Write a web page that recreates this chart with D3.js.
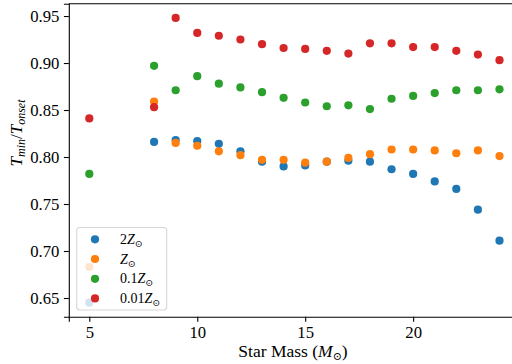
<!DOCTYPE html>
<html><head><meta charset="utf-8">
<script src="https://cdn.jsdelivr.net/npm/d3@7"></script>
<style>body{margin:0;background:#fff}svg{display:block}</style>
</head><body>
<svg id="c" width="512" height="364"></svg>
<script>
const masses = [5,8,9,10,11,12,13,14,15,16,17,18,19,20,21,22,23,24];
const z2   = [0.645,0.816,0.818,0.817,0.814,0.806,0.795,0.790,0.791,0.795,0.796,0.795,0.787,0.782,0.774,0.766,0.744,0.711];
const z1   = [0.683,0.859,0.815,0.812,0.806,0.802,0.797,0.797,0.794,0.795,0.799,0.803,0.808,0.808,0.807,0.804,0.807,0.801];
const z01  = [0.782,0.897,0.871,0.886,0.878,0.874,0.869,0.863,0.858,0.854,0.855,0.851,0.862,0.865,0.868,0.871,0.871,0.872];
const z001 = [0.841,0.853,0.948,0.932,0.929,0.925,0.920,0.916,0.915,0.913,0.910,0.921,0.921,0.917,0.917,0.913,0.909,0.903];
const seriesNames = ["2", "", "0.1", "0.01"];
const seriesValues = [z2, z1, z01, z001];
const colors = ["#1f77b4","#ff7f0e","#2ca02c","#d62728"];
const xTicks = [5,10,15,20];
const yTicks = [0.65,0.70,0.75,0.80,0.85,0.90,0.95];

const svg = d3.select("#c");
const FONT = "'Liberation Serif', 'DejaVu Serif', serif";
const x = d3.scaleLinear().domain([4.05, 24.95]).range([68.8, 520]);
const y = d3.scaleLinear().domain([0.63, 0.963]).range([316.8, 3.8]);

// points
seriesValues.forEach((vals, si) => {
  svg.append("g").selectAll("circle").data(masses.map((m,i)=>[m, vals[i]]))
    .enter().append("circle")
    .attr("cx", d => x(d[0])).attr("cy", d => y(d[1])).attr("r", 4.1)
    .attr("fill", colors[si]);
});

// axes
const xAxis = svg.append("g").attr("transform", `translate(0,${y.range()[0]})`)
  .call(d3.axisBottom(x).tickValues(xTicks).tickFormat(d3.format("d")).tickSizeOuter(0).tickSize(4.9).tickPadding(4.5));
const yAxis = svg.append("g").attr("transform", `translate(${x.range()[0]},0)`)
  .call(d3.axisLeft(y).tickValues(yTicks).tickFormat(d3.format(".2f")).tickSizeOuter(0).tickSize(4.9).tickPadding(4.5));
[xAxis, yAxis].forEach(g => {
  g.selectAll("text").attr("font-family", FONT).attr("font-size", 16.7).attr("fill", "#000");
  g.selectAll("line").attr("stroke", "#000").attr("stroke-width", 1.1);
  g.select(".domain").attr("stroke", "#000").attr("stroke-width", 1.1);
});
// top and right spines
svg.append("line").attr("x1", x.range()[0]).attr("x2", x.range()[1]).attr("y1", y.range()[1]).attr("y2", y.range()[1])
  .attr("stroke", "#000").attr("stroke-width", 1.1);
svg.append("line").attr("x1", x.range()[1]).attr("x2", x.range()[1]).attr("y1", y.range()[0]).attr("y2", y.range()[1])
  .attr("stroke", "#000").attr("stroke-width", 1.1);

// x label
const xl = svg.append("text").attr("x", 293).attr("y", 357).attr("text-anchor", "middle")
  .attr("font-family", FONT).attr("font-size", 17.5);
xl.append("tspan").text("Star Mass (");
xl.append("tspan").attr("font-style", "italic").text("M");
xl.append("tspan").attr("font-size", 11).attr("dy", 3).text("⊙");
xl.append("tspan").attr("dy", -3).text(")");

// y label
const yl = svg.append("text").attr("transform", "translate(22,133) rotate(-90)").attr("text-anchor", "middle")
  .attr("font-family", FONT).attr("font-size", 17).attr("font-style", "italic");
yl.append("tspan").text("T");
yl.append("tspan").attr("font-size", 12).attr("dy", 3).text("min");
yl.append("tspan").attr("dy", -3).attr("font-style", "normal").text("/");
yl.append("tspan").text("T");
yl.append("tspan").attr("font-size", 12).attr("dy", 3).text("onset");

// legend
const lg = svg.append("g");
lg.append("rect").attr("x", 76.7).attr("y", 227.5).attr("width", 90).attr("height", 82.5)
  .attr("rx", 3).attr("fill", "rgba(255,255,255,0.8)").attr("stroke", "rgba(204,204,204,0.8)").attr("stroke-width", 1.1);
const rowY = [239.3, 259, 278.8, 298.4];
seriesNames.forEach((nm, i) => {
  lg.append("circle").attr("cx", 95).attr("cy", rowY[i]).attr("r", 4.1).attr("fill", colors[i]);
  const t = lg.append("text").attr("x", 120).attr("y", rowY[i] + 4.5).attr("font-family", FONT).attr("font-size", 14);
  if (nm) t.append("tspan").text(nm);
  t.append("tspan").attr("font-style", "italic").text("Z");
  t.append("tspan").attr("font-size", 9.5).attr("dy", 3).text("⊙");
});
</script>
</body></html>
